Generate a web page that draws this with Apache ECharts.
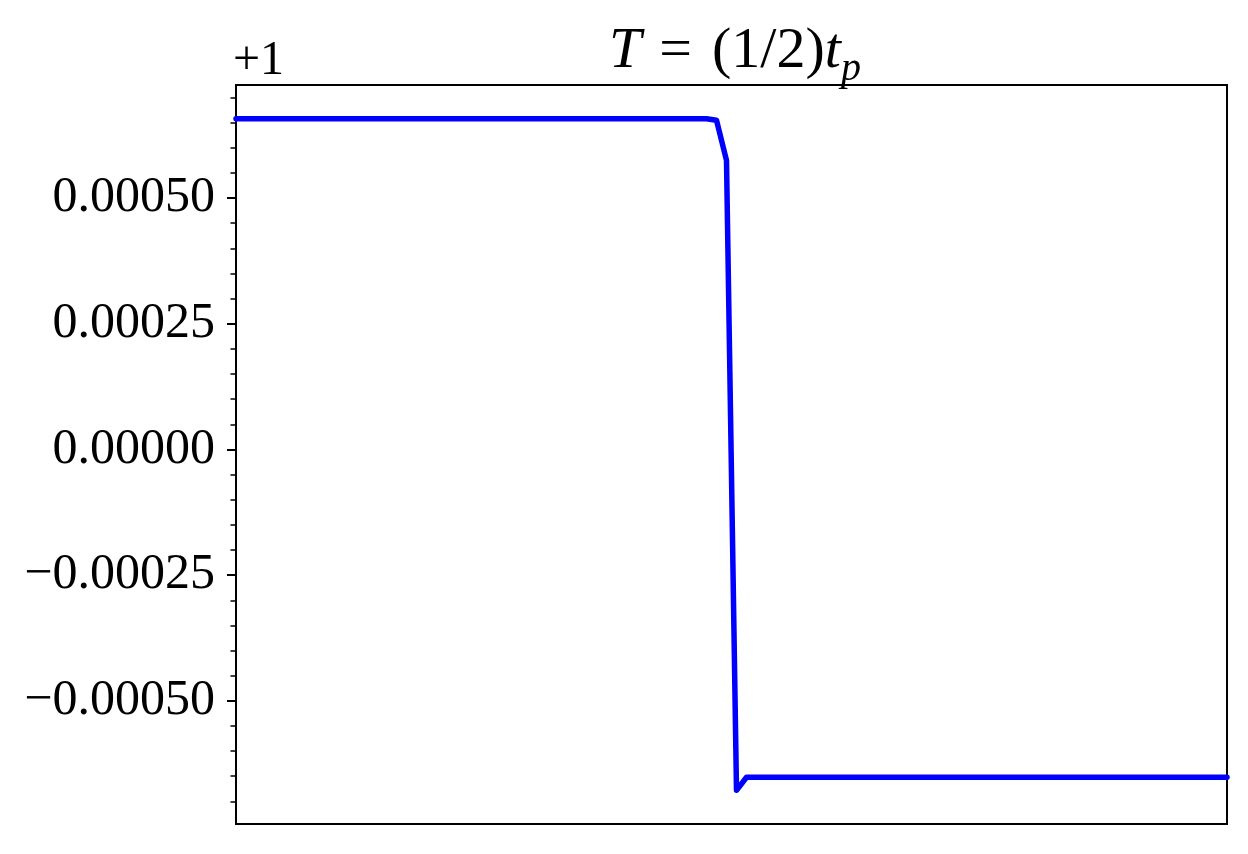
<!DOCTYPE html>
<html>
<head>
<meta charset="utf-8">
<script src="https://cdn.jsdelivr.net/npm/echarts@6/dist/echarts.min.js"></script>
<style>html,body{margin:0;padding:0;background:#fff}#c{width:1248px;height:854px}</style>
</head>
<body>
<div id="c"></div>
<script>
// Offset shown on the axis: values are (y - 1)
const offsetLabel = '+1';
const yMajorTicks = [-0.0005, -0.00025, 0, 0.00025, 0.0005];
const yMinorTicks = [-0.0007,-0.00065,-0.0006,-0.00055,-0.00045,-0.0004,-0.00035,-0.0003,-0.0002,-0.00015,-0.0001,-0.00005,0.00005,0.0001,0.00015,0.0002,0.0003,0.00035,0.0004,0.00045,0.00055,0.0006,0.00065,0.0007];
const yMin = -0.000745, yMax = 0.000725;
// series values (deviation from 1), 100 samples
const seriesValues = [
0.000658,0.000658,0.000658,0.000658,0.000658,0.000658,0.000658,0.000658,0.000658,0.000658,
0.000658,0.000658,0.000658,0.000658,0.000658,0.000658,0.000658,0.000658,0.000658,0.000658,
0.000658,0.000658,0.000658,0.000658,0.000658,0.000658,0.000658,0.000658,0.000658,0.000658,
0.000658,0.000658,0.000658,0.000658,0.000658,0.000658,0.000658,0.000658,0.000658,0.000658,
0.000658,0.000658,0.000658,0.000658,0.000658,0.000658,0.000658,0.000658,0.000655,0.000575,
-0.000678,-0.000652,-0.000652,-0.000652,-0.000652,-0.000652,-0.000652,-0.000652,-0.000652,-0.000652,
-0.000652,-0.000652,-0.000652,-0.000652,-0.000652,-0.000652,-0.000652,-0.000652,-0.000652,-0.000652,
-0.000652,-0.000652,-0.000652,-0.000652,-0.000652,-0.000652,-0.000652,-0.000652,-0.000652,-0.000652,
-0.000652,-0.000652,-0.000652,-0.000652,-0.000652,-0.000652,-0.000652,-0.000652,-0.000652,-0.000652,
-0.000652,-0.000652,-0.000652,-0.000652,-0.000652,-0.000652,-0.000652,-0.000652,-0.000652,-0.000652
];
const xIndex = seriesValues.map((v, i) => i);

const FONT = '"Liberation Serif", "DejaVu Serif", serif';
function fmt(v){
  const s = Math.abs(v).toFixed(5);
  return (v < -1e-12 ? '\u2212' : '') + s;
}
const chart = echarts.init(document.getElementById('c'), null, {renderer:'canvas'});
chart.setOption({
  animation:false,
  backgroundColor:'#fff',
  title:{
    text:'{i|T}{e|=}(1/2){i|t}{s|p}',
    left:730, textAlign:'center', top:10,
    textStyle:{
      fontFamily:FONT, fontSize:58, color:'#000', fontWeight:'normal',
      rich:{
        i:{fontFamily:FONT, fontSize:58, fontStyle:'italic', color:'#000'},
        e:{fontFamily:FONT, fontSize:58, color:'#000', padding:[0,20,0,18]},
        s:{fontFamily:FONT, fontSize:40, fontStyle:'italic', color:'#000', padding:[34,0,0,0]}
      }
    }
  },
  graphic:[{
    type:'text', left:233, top:37,
    style:{text:offsetLabel, font:'48px ' + FONT, fill:'#000'}
  }],
  grid:{left:236, right:21, top:85, bottom:30, show:true, borderColor:'#000', borderWidth:2, backgroundColor:'transparent'},
  xAxis:{type:'value', min:0, max:seriesValues.length-1, show:false},
  yAxis:[{
    type:'value', min:yMin, max:yMax,
    axisLine:{show:false},
    splitLine:{show:false},
    axisTick:{show:true, customValues:yMajorTicks, length:9, lineStyle:{color:'#000', width:2}},
    axisLabel:{customValues:yMajorTicks, formatter:fmt, margin:21, fontFamily:FONT, fontSize:50, color:'#000'}
  },{
    type:'value', min:yMin, max:yMax, position:'left',
    axisLine:{show:false}, splitLine:{show:false},
    axisTick:{show:true, customValues:yMinorTicks, length:5.5, lineStyle:{color:'#000', width:1.5}},
    axisLabel:{show:false}
  }],
  series:[{
    type:'line', data:xIndex.map((x,i)=>[x, seriesValues[i]]),
    showSymbol:false, symbol:'none',
    lineStyle:{color:'#0000ff', width:5.5, join:'round', cap:'round'},
    z:3
  }]
});
</script>
</body>
</html>
